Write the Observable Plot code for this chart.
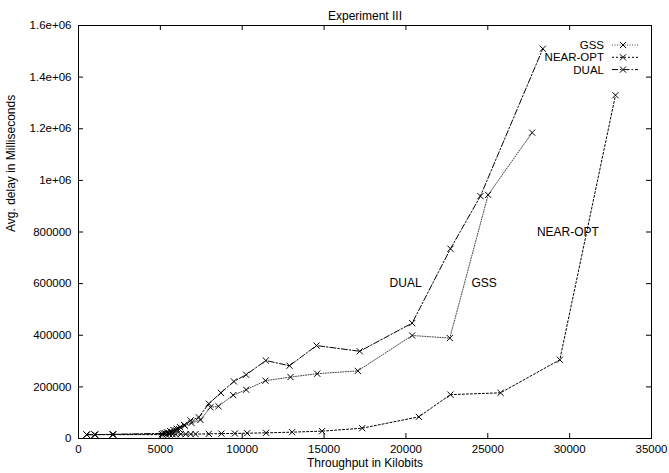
<!DOCTYPE html>
<html>
<head>
<meta charset="utf-8">
<script src="https://cdn.jsdelivr.net/npm/d3@7"></script>
<script src="https://cdn.jsdelivr.net/npm/@observablehq/plot@0.6"></script>
<style>
  html, body { margin: 0; padding: 0; background: #fff; }
  #chart svg { display: block; }
</style>
</head>
<body>
<div id="chart"></div>
<script>
// ---- Data ----
const seriesNames = ["GSS", "NEAR-OPT", "DUAL"];

const gssX = [500, 1000, 2100, 5100, 5300, 5500, 5700, 5950, 6150, 6500, 6900, 7450, 8060, 8550, 9450, 10240, 11420, 12950, 14580, 17060, 20380, 22680, 25020, 27710];
const gssY = [15000, 15000, 16000, 17000, 20000, 22000, 25000, 32000, 36000, 50000, 60000, 72000, 121000, 125000, 168000, 189000, 224000, 238000, 251000, 262000, 399000, 389000, 944000, 1185000];

const nearX = [500, 1000, 2100, 5150, 5350, 5550, 5750, 5950, 6250, 6550, 6850, 7150, 7960, 8730, 9550, 10300, 11460, 13050, 14880, 17330, 20790, 22720, 25780, 29400, 32800];
const nearY = [15000, 15000, 15000, 15000, 15000, 16000, 16000, 16000, 17000, 17000, 17000, 17000, 18000, 19000, 19500, 20500, 22000, 24600, 28500, 40000, 84000, 170000, 177000, 305000, 1330000];

const dualX = [500, 1000, 2100, 5200, 5400, 5600, 5800, 6000, 6200, 6450, 6850, 7350, 7960, 8700, 9490, 10240, 11440, 12890, 14540, 17180, 20380, 22720, 24550, 28360];
const dualY = [15000, 15000, 16000, 20000, 24000, 28000, 33000, 38000, 44000, 52000, 70000, 82000, 135000, 177000, 221000, 247000, 302000, 282000, 360000, 338000, 447000, 735000, 939000, 1510000];

const xTicks = [0, 5000, 10000, 15000, 20000, 25000, 30000, 35000];
const xTickLabels = ["0", "5000", "10000", "15000", "20000", "25000", "30000", "35000"];
const yTicks = [0, 200000, 400000, 600000, 800000, 1000000, 1200000, 1400000, 1600000];
const yTickLabels = ["0", "200000", "400000", "600000", "800000", "1e+06", "1.2e+06", "1.4e+06", "1.6e+06"];

const labelTexts = ["DUAL", "GSS", "NEAR-OPT"];
const labelX = [19000, 24000, 28000];
const labelY = [600000, 600000, 800000];

const titleText = "Experiment III";
const xLabelText = "Throughput in Kilobits";
const yLabelText = "Avg. delay in Milliseconds";

// ---- Styles ----
const styles = {
  "GSS": {stroke: "#444", dash: "1,1.5"},
  "NEAR-OPT": {stroke: "#000", dash: "2,2"},
  "DUAL": {stroke: "#000", dash: "6,2,1.5,2"}
};

// ---- Build rows ----
const seriesData = {
  "GSS": gssX.map((x, i) => ({series: "GSS", x, y: gssY[i]})),
  "NEAR-OPT": nearX.map((x, i) => ({series: "NEAR-OPT", x, y: nearY[i]})),
  "DUAL": dualX.map((x, i) => ({series: "DUAL", x, y: dualY[i]}))
};
const allRows = seriesNames.flatMap(s => seriesData[s]);
const labels = labelTexts.map((t, i) => ({t, x: labelX[i], y: labelY[i]}));

const W = 669, H = 473;
const mL = 78, mR = 18, mT = 25, mB = 35;
const fW = W - mL - mR, fH = H - mT - mB;
const font = "'Liberation Sans', Arial, Helvetica, sans-serif";
const markR = 2.9;

const xLab = new Map(xTicks.map((d, i) => [d, xTickLabels[i]]));
const yLab = new Map(yTicks.map((d, i) => [d, yTickLabels[i]]));

const chart = Plot.plot({
  width: W,
  height: H,
  marginLeft: mL,
  marginRight: mR,
  marginTop: mT,
  marginBottom: mB,
  style: {fontFamily: font, fontSize: "12px", background: "#fff", color: "#000", overflow: "visible"},
  x: {domain: [0, 35000]},
  y: {domain: [0, 1600000]},
  marks: [
    Plot.frame({stroke: "#000", strokeWidth: 1}),
    Plot.tickX(xTicks, {x: d => d, insetTop: fH - 5, stroke: "#000"}),
    Plot.tickX(xTicks, {x: d => d, insetBottom: fH - 5, stroke: "#000"}),
    Plot.tickY(yTicks, {y: d => d, insetRight: fW - 5, stroke: "#000"}),
    Plot.tickY(yTicks, {y: d => d, insetLeft: fW - 5, stroke: "#000"}),
    Plot.axisX({ticks: xTicks, tickSize: 0, tickPadding: 6, tickFormat: d => xLab.get(d), label: null, fontSize: 11.5}),
    Plot.axisY({ticks: yTicks, tickSize: 0, tickPadding: 7, tickFormat: d => yLab.get(d), label: null, fontSize: 11.5}),
    ...seriesNames.map(s => Plot.line(seriesData[s], {
      x: "x", y: "y", stroke: styles[s].stroke, strokeWidth: 1, strokeDasharray: styles[s].dash
    })),
    Plot.dot(allRows, {x: "x", y: "y", symbol: "times", r: markR, stroke: "#000", strokeWidth: 1}),
    Plot.text(labels, {x: "x", y: "y", text: "t", textAnchor: "start", fontSize: 12, fill: "#000"}),
    Plot.text([titleText], {frameAnchor: "top", dy: -14, fontSize: 12, fill: "#000"}),
    Plot.text([xLabelText], {frameAnchor: "bottom", dy: 28, fontSize: 12, fill: "#000"}),
    Plot.text([yLabelText], {frameAnchor: "left", dx: -67, rotate: -90, fontSize: 12, fill: "#000"})
  ]
});

// ---- Legend (gnuplot-style key, top right inside the frame) ----
const svg = d3.select(chart);
const key = svg.append("g").attr("font-family", font).attr("font-size", 11.5);
seriesNames.forEach((s, i) => {
  const cy = mT + 20 + i * 12.3;
  key.append("text")
    .attr("x", 604).attr("y", cy).attr("dy", "0.35em")
    .attr("text-anchor", "end").attr("fill", "#000").text(s);
  key.append("line")
    .attr("x1", 612).attr("x2", 638).attr("y1", cy).attr("y2", cy)
    .attr("stroke", styles[s].stroke).attr("stroke-dasharray", styles[s].dash);
  key.append("path")
    .attr("transform", `translate(623,${cy})`)
    .attr("d", d3.symbol(d3.symbolTimes, markR * markR * Math.PI)())
    .attr("fill", "none").attr("stroke", "#000").attr("stroke-width", 1);
});

document.getElementById("chart").appendChild(chart);
</script>
</body>
</html>
